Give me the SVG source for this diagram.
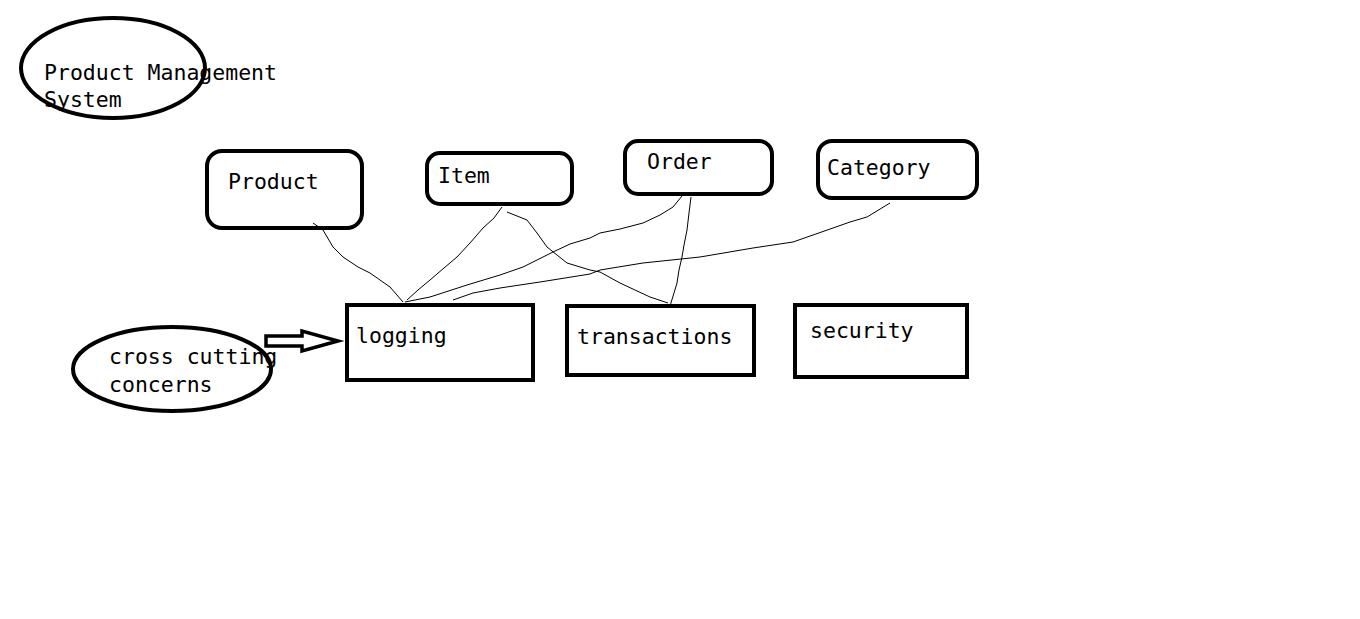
<svg xmlns="http://www.w3.org/2000/svg" width="1360" height="619" viewBox="0 0 1360 619">
<style>
text{font-family:"DejaVu Sans Mono","Liberation Mono",monospace;font-size:21.5px;fill:#000}
.b{fill:none;stroke:#000;stroke-width:4}
.c{fill:none;stroke:#000;stroke-width:1;stroke-linejoin:round}
</style>
<rect width="1360" height="619" fill="#fff"/>
<g id="title">
<ellipse class="b" cx="113" cy="68" rx="92" ry="50"/>
<text x="44" y="80">Product Management</text>
<text x="44" y="107">System</text>
</g>
<g id="product"><rect class="b" x="207" y="151" width="155" height="77" rx="15"/><text x="228" y="189">Product</text></g>
<g id="item"><rect class="b" x="427" y="153" width="145" height="51" rx="13"/><text x="438" y="183">Item</text></g>
<g id="order"><rect class="b" x="625" y="141" width="147" height="53" rx="13"/><text x="647" y="169">Order</text></g>
<g id="category"><rect class="b" x="818" y="141" width="159" height="57" rx="14"/><text x="827" y="175">Category</text></g>
<g id="logging"><rect class="b" x="347" y="305" width="186" height="75"/><text x="356" y="343">logging</text></g>
<g id="transactions"><rect class="b" x="567" y="306" width="187" height="69"/><text x="577" y="344">transactions</text></g>
<g id="security"><rect class="b" x="795" y="305" width="172" height="72"/><text x="810" y="338">security</text></g>
<g id="concerns">
<ellipse class="b" cx="172" cy="369" rx="99" ry="42"/>
<text x="109" y="364">cross cutting</text>
<text x="109" y="392">concerns</text>
</g>
<g id="connectors">
<path d="M266,336 L302,336 L302,331 L338,341 L302,351 L302,346 L266,346 Z" fill="#fff" stroke="#000" stroke-width="3.5" stroke-linejoin="miter"/>
<polyline class="c" points="313,223 323,230 333,247 343,257 358,267 370,273 390,287 403,302"/>
<polyline class="c" points="502,207 494,218 483,228 470,243 457,257 444,268 430,280 418,290 407,300"/>
<polyline class="c" points="507,212 527,220 537,233 547,247 567,263 590,270 600,272 620,283 650,297 668,303"/>
<polyline class="c" points="682,196 673,207 660,215 643,223 620,229 600,233 590,238 570,244 553,252 523,267 500,275 467,285 430,297 405,302"/>
<polyline class="c" points="691,197 689,213 687,230 684,245 682,257 679,270 677,283 674,293 670,306"/>
<polyline class="c" points="890,203 867,217 850,222 833,228 793,242 753,248 700,257 643,263 600,270 590,274 540,282 500,288 473,293 453,300"/>
</g>
</svg>
